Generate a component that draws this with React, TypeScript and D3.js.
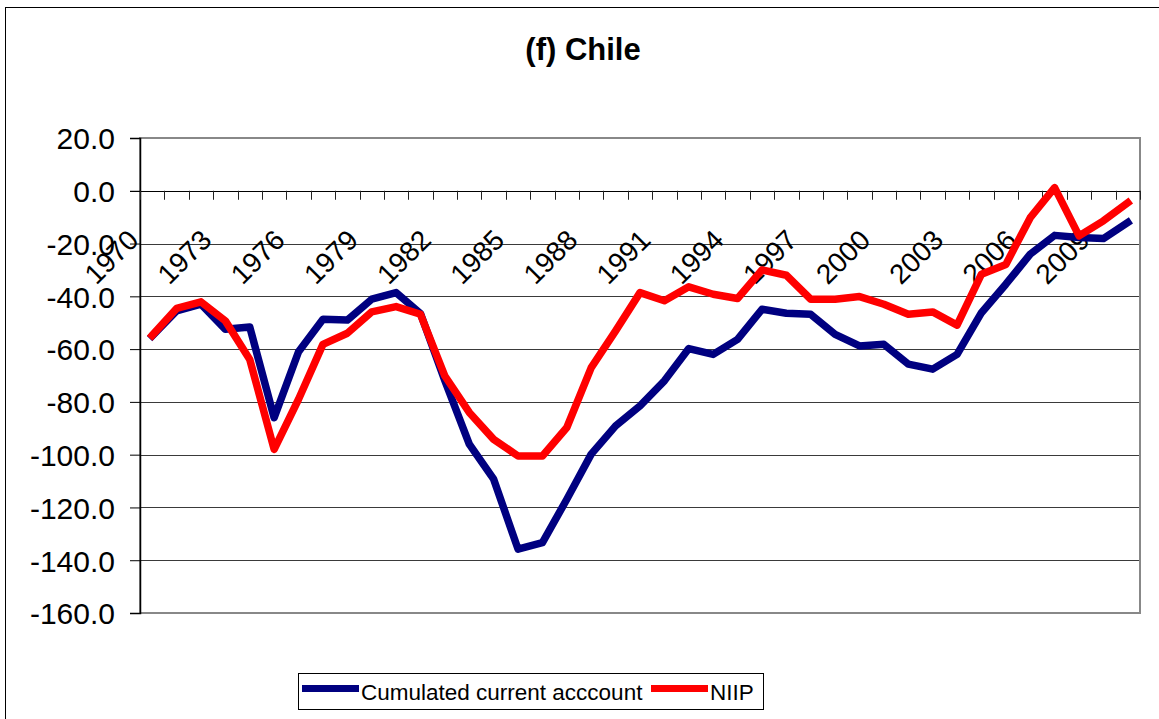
import React, { useEffect, useRef } from "react";
import * as d3 from "d3";

// categories (years) and the two series
const years = [
  "1970", "1971", "1972", "1973", "1974", "1975", "1976", "1977", "1978", "1979",
  "1980", "1981", "1982", "1983", "1984", "1985", "1986", "1987", "1988", "1989",
  "1990", "1991", "1992", "1993", "1994", "1995", "1996", "1997", "1998", "1999",
  "2000", "2001", "2002", "2003", "2004", "2005", "2006", "2007", "2008", "2009",
  "2010",
];

const cumulatedCA = [
  -55, -45.5, -43, -52.5, -51.6, -86, -61, -48.7, -49, -41.1,
  -38.6, -46.5, -72, -96, -109.3, -135.8, -133.3, -116.9, -99.8, -89.1,
  -81.5, -72, -59.8, -62, -56.3, -44.9, -46.4, -46.8, -54.4, -58.8,
  -58.2, -65.7, -67.6, -62, -46.2, -35.4, -24, -16.9, -17.7, -18.1,
  -12,
];

const niip = [
  -54.8, -44.6, -42.1, -49.3, -63.9, -98, -79, -58.2, -54, -45.9,
  -43.9, -46.8, -70.2, -84, -94.2, -100.5, -100.5, -89.7, -67, -53.1,
  -38.6, -41.7, -36.4, -39.2, -40.8, -30, -32, -41.1, -41.1, -40.1,
  -43, -46.8, -45.9, -50.9, -31.6, -27.9, -10.2, 1.2, -17.1, -11.4,
  -4.5,
];

const yTicks = [20, 0, -20, -40, -60, -80, -100, -120, -140, -160];
const xLabels = ["1970", "1973", "1976", "1979", "1982", "1985", "1988", "1991", "1994", "1997", "2000", "2003", "2006", "2009"];

const title = "(f) Chile";
const seriesNames = ["Cumulated current acccount", "NIIP"];
const seriesColors = ["#000080", "#FF0000"];

const W = 1159;
const H = 719;
const plot = { left: 140, top: 138, right: 1140, bottom: 613 };
const font = "'Liberation Sans', Arial, sans-serif";

function App() {
  const svgRef = useRef<SVGSVGElement>(null);

  useEffect(() => {
    const svg = d3.select(svgRef.current);
    svg.selectAll("*").remove();

    const x = d3.scaleBand().domain(years).range([plot.left, plot.right]).padding(0);
    const y = d3.scaleLinear().domain([-160, 20]).range([plot.bottom, plot.top]);
    const cx = (yr: string) => (x(yr) as number) + x.bandwidth() / 2;

    // chart frame
    svg.append("rect")
      .attr("x", 5.5).attr("y", 7.5)
      .attr("width", 1160).attr("height", 720)
      .attr("fill", "white").attr("stroke", "#000").attr("stroke-width", 1);

    // title
    svg.append("text")
      .attr("x", 583).attr("y", 60)
      .attr("text-anchor", "middle")
      .attr("font-family", font).attr("font-weight", "bold").attr("font-size", 31)
      .text(title);

    // gridlines
    svg.append("g")
      .selectAll("line")
      .data(yTicks.filter((t) => t !== 20 && t !== -160 && t !== 0))
      .join("line")
      .attr("x1", plot.left).attr("x2", plot.right)
      .attr("y1", (d) => Math.round(y(d)) + 0.5).attr("y2", (d) => Math.round(y(d)) + 0.5)
      .attr("stroke", "#3a3a3a").attr("stroke-width", 1);

    // plot area border
    svg.append("rect")
      .attr("x", plot.left).attr("y", plot.top)
      .attr("width", plot.right - plot.left).attr("height", plot.bottom - plot.top)
      .attr("fill", "none").attr("stroke", "#888").attr("stroke-width", 2);

    // y axis (hyphen minus like the original, not the unicode minus)
    const yAxis = d3.axisLeft(y).tickValues(yTicks).tickSize(10)
      .tickFormat((d) => (d as number).toFixed(1));
    const gy = svg.append("g").attr("transform", `translate(${plot.left},0)`).call(yAxis);
    gy.select(".domain").attr("stroke", "#000").attr("stroke-width", 1.5);
    gy.selectAll(".tick line").attr("stroke", "#000");
    gy.selectAll(".tick text")
      .attr("x", -25).attr("dy", "0.36em")
      .attr("font-family", font).attr("font-size", 30).attr("fill", "#000");

    // x axis along zero line, ticks at category boundaries
    const gx = svg.append("g");
    gx.append("line")
      .attr("x1", plot.left - 10).attr("x2", plot.right)
      .attr("y1", Math.round(y(0)) + 0.5).attr("y2", Math.round(y(0)) + 0.5)
      .attr("stroke", "#000").attr("stroke-width", 1);
    const boundaries = years.map((yr) => x(yr) as number).concat([plot.right]);
    gx.selectAll("line.tk")
      .data(boundaries)
      .join("line")
      .attr("class", "tk")
      .attr("x1", (d) => Math.round(d) + 0.5).attr("x2", (d) => Math.round(d) + 0.5)
      .attr("y1", y(0)).attr("y2", y(0) + 9)
      .attr("stroke", "#222").attr("stroke-width", 1);
    gx.selectAll("text")
      .data(xLabels)
      .join("text")
      .attr("transform", (d) => `translate(${cx(d) - 12},${y(0) + 51}) rotate(-45)`)
      .attr("text-anchor", "end")
      .attr("font-family", font).attr("font-size", 28).attr("fill", "#000")
      .text((d) => d);

    // lines
    const line = d3.line<number>()
      .x((_, i) => cx(years[i]))
      .y((d) => y(d));
    [cumulatedCA, niip].forEach((vals, k) => {
      svg.append("path")
        .datum(vals)
        .attr("d", line)
        .attr("fill", "none")
        .attr("stroke", seriesColors[k])
        .attr("stroke-width", 7.5)
        .attr("stroke-linejoin", "round")
        .attr("stroke-linecap", "square");
    });

    // legend
    const lg = svg.append("g");
    lg.append("rect")
      .attr("x", 298.5).attr("y", 673.5).attr("width", 465).attr("height", 36)
      .attr("fill", "white").attr("stroke", "#000").attr("stroke-width", 1);
    const items = [
      { x0: 302, name: seriesNames[0], color: seriesColors[0] },
      { x0: 651, name: seriesNames[1], color: seriesColors[1] },
    ];
    items.forEach((it) => {
      lg.append("line")
        .attr("x1", it.x0).attr("x2", it.x0 + 57)
        .attr("y1", 688.5).attr("y2", 688.5)
        .attr("stroke", it.color).attr("stroke-width", 7);
      lg.append("text")
        .attr("x", it.x0 + 59).attr("y", 700)
        .attr("font-family", font).attr("font-size", 22.5).attr("fill", "#000")
        .text(it.name);
    });
  }, []);

  return (
    <svg
      ref={svgRef}
      width={W}
      height={H}
      style={{ position: "absolute", left: 0, top: 0, display: "block", background: "white" }}
    />
  );
}

export default App;
